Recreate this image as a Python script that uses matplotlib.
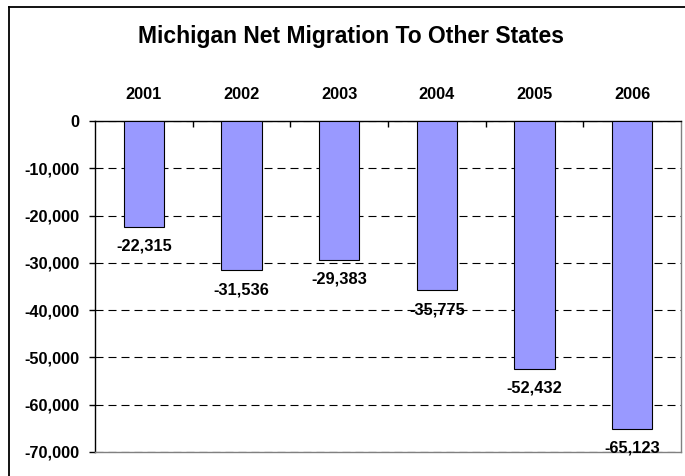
import matplotlib
matplotlib.use("Agg")
import matplotlib.pyplot as plt
from matplotlib.lines import Line2D

years = ["2001", "2002", "2003", "2004", "2005", "2006"]
values = [-22315, -31536, -29383, -35775, -52432, -65123]
yticks = [0, -10000, -20000, -30000, -40000, -50000, -60000, -70000]

plt.rcParams['font.family'] = ['Liberation Sans', 'DejaVu Sans']

W, H = 685, 476
fig = plt.figure(figsize=(W / 100, H / 100), dpi=100)
# outer chart border (left and top visible)
fig.add_artist(Line2D([9 / W, 9 / W], [0, 1 - 7 / H], transform=fig.transFigure,
                      color='black', linewidth=1.3))
fig.add_artist(Line2D([9 / W, 1], [1 - 7 / H, 1 - 7 / H], transform=fig.transFigure,
                      color='black', linewidth=1.3))

ax = fig.add_axes([95 / W, 1 - 452 / H, 586 / W, 331 / H])
x = list(range(len(years)))
ax.bar(x, values, width=0.41, color='#9999FF', edgecolor='black', linewidth=0.8, zorder=3)
ax.set_xlim(-0.5, len(years) - 0.5)
ax.set_ylim(-70000, 0)
ax.set_yticks(yticks)
ax.set_yticklabels([f"{v:,}" for v in yticks], fontsize=11.8, fontweight='bold')
ax.yaxis.grid(True, linestyle=(0, (7.2, 4.5)), color='black', linewidth=0.8)
ax.set_axisbelow(True)

ax.xaxis.tick_top()
ax.set_xticks(x)
ax.set_xticklabels(years, fontsize=11.8, fontweight='bold')
ax.tick_params(axis='x', which='major', length=0, pad=13.5)
ax.set_xticks([i + 0.5 for i in x[:-1]], minor=True)
ax.tick_params(axis='x', which='minor', direction='in', length=4.5, width=1, top=True, bottom=False)
ax.tick_params(axis='y', length=4.5, width=1, direction='out', pad=6.5)

ax.spines['top'].set_color('black')
ax.spines['left'].set_color('black')
ax.spines['bottom'].set_color('#808080')
ax.spines['right'].set_color('#808080')
for s in ax.spines.values():
    s.set_linewidth(1)

for xi, v in zip(x, values):
    ax.annotate(f"{v:,}", (xi, v), xytext=(0, -14), textcoords='offset points',
                ha='center', va='center', fontsize=11.8, fontweight='bold')

fig.text(351 / W, 1 - 43 / H, "Michigan Net Migration To Other States",
         ha='center', va='baseline', fontsize=16.5, fontweight='bold')

fig.savefig("out.png", dpi=100)
